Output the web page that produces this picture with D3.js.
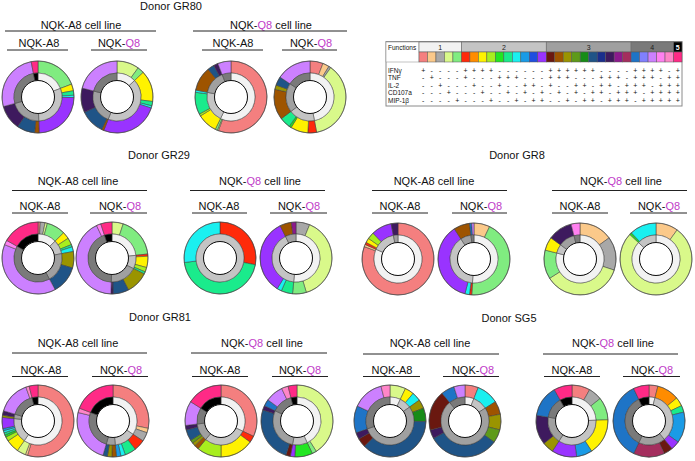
<!DOCTYPE html>
<html><head><meta charset="utf-8">
<script src="https://cdn.jsdelivr.net/npm/d3@7"></script>
<style>
body{margin:0;background:#fff}
svg{display:block}
text{font-family:"Liberation Sans",Arial,Helvetica,sans-serif;fill:#111}
</style>
</head><body>
<svg id="chart" width="695" height="461"></svg>
<script>
// ---------- DATA ----------
const functionNames = ["IFNγ","TNF","IL-2","CD107a","MIP-1β"];
// 31 functional combinations (1 = function present), in legend order
const combos = ["10000","01000","00100","00010","00001",
  "11000","10100","10010","10001","01100","01010","01001","00110","00101","00011",
  "11100","11010","11001","10110","10101","10011","01110","01101","01011","00111",
  "11110","11101","11011","10111","01111","11111"];
const comboColors = ["#F47F7F","#FBC98A","#A8A8A8","#D9F98A","#80EC80",
  "#FF2A0A","#FF8C00","#FFF200","#A8EE1E","#22E622","#1AEB8C","#1AF0F0","#1A9BE6","#1F4FE0","#9933FF",
  "#6A1810","#9E5400","#9A9400","#5E9A1A","#178C17","#1F5487","#1A2E8C","#3E1A5E","#8C1A8C","#A42E5E",
  "#1E74C6","#8080FF","#CC80FF","#FF80F0","#FF85C8","#FF2A86"];
const functionCountLabels = ["1","2","3","4","5"];
const functionCountGreys = ["#F2F2F2","#C4C4C4","#A0A0A0","#7A7A7A","#000000"];

// donut data: [combination index (1-based), percent], clockwise from 12 o'clock
const GR80_A8line_A8 = [[5,19],[8,3],[11,2],[12,1],[15,24],[17,2],[21,8],[23,11],[28,26],[31,3]];
const GR80_A8line_Q8 = [[4,10],[5,3],[8,14],[11,2],[12,1],[15,26],[17,1],[21,11],[23,11],[28,21]];
const GR80_Q8line_A8 = [[1,56],[4,0.5],[5,1],[8,9],[9,1],[11,10],[12,1],[17,11],[21,3],[23,2],[28,6]];
const GR80_Q8line_Q8 = [[1,6],[2,3],[3,1],[4,38],[6,4],[8,8],[10,1],[11,5],[17,14],[18,2],[21,4],[28,16]];

const GR29_A8line_A8 = [[1,1],[3,2],[4,1],[5,8],[8,3],[9,3],[11,1],[12,2],[18,7],[21,12],[28,37],[29,2],[31,16]];
const GR29_A8line_Q8 = [[4,5],[5,18],[6,1],[8,5],[9,2],[11,1],[18,10],[21,7],[23,1],[28,42],[29,2],[31,5]];
const GR29_Q8line_A8 = [[6,28],[11,45],[12,27]];
const GR29_Q8line_Q8 = [[3,6],[4,38],[5,6],[11,5],[12,2],[15,33],[17,5],[24,2]];

const GR8_A8line_A8 = [[1,79],[2,1],[6,1],[8,2],[9,3],[15,9],[23,3]];
const GR8_A8line_Q8 = [[2,7],[5,43],[6,1],[12,2],[15,36],[17,7],[26,1],[28,1]];
const GR8_Q8line_A8 = [[2,15],[3,15],[4,36],[5,13],[8,6],[23,11],[29,4]];
const GR8_Q8line_Q8 = [[2,10],[4,77],[10,1],[12,12]];

const GR81_A8line_A8 = [[1,55],[2,1],[4,4],[8,6],[9,2],[10,1],[11,1],[12,1],[13,1],[15,5],[18,1],[23,2],[28,15],[30,1.5],[31,4]];
const GR81_A8line_Q8 = [[1,28],[2,2],[3,4],[6,5],[11,5],[12,2],[13,2],[17,2],[18,2],[21,2],[28,24],[30,2],[31,19]];
const GR81_Q8line_A8 = [[1,32],[6,3],[8,15],[9,11],[17,2],[18,1.5],[19,1.5],[21,5],[23,2],[28,11],[31,16]];
const GR81_Q8line_Q8 = [[4,41],[5,2],[10,8],[15,2],[16,2],[21,25],[23,2],[26,3],[28,8],[30,3],[31,4]];

const SG5_A8line_A8 = [[4,7],[8,4],[12,4],[18,4],[20,6],[21,37],[16,4],[23,3],[26,12],[28,14],[30,4]];
const SG5_A8line_Q8 = [[1,6],[12,10],[17,6],[18,7],[19,6],[21,32],[23,4],[16,18],[26,6],[28,5]];
const SG5_Q8line_A8 = [[1,8],[3,6],[5,10],[8,16],[13,7],[15,11],[18,5],[23,13],[26,14],[31,8]];
const SG5_Q8line_Q8 = [[1,4],[7,10],[8,4],[11,3],[13,14],[15,4],[16,4],[25,14],[26,36],[31,7]];

const cellLineLabels = ["NQK-A8 cell line","NQK-Q8 cell line"];
const peptideLabels = ["NQK-A8","NQK-Q8"];

// ---------- LAYOUT ----------
const panels = [
  {donor:"GR80", tx:171, ty:10, gy:29, gly:31, sy:47, sly:50, dy:97,
   groups:[{cx:81,x0:5,x1:156},{cx:271,x0:193,x1:347}],
   subs:[{cx:39,x0:7,x1:68},{cx:119,x0:91,x1:147},{cx:233,x0:202,x1:263},{cx:311,x0:282,x1:337}],
   donutX:[38,117,231,310], data:[GR80_A8line_A8,GR80_A8line_Q8,GR80_Q8line_A8,GR80_Q8line_Q8]},
  {donor:"GR29", tx:159, ty:159, gy:185, gly:190.5, sy:210, sly:213, dy:258,
   groups:[{cx:78,x0:12,x1:147},{cx:260,x0:190,x1:325}],
   subs:[{cx:40,x0:12,x1:68},{cx:120,x0:90,x1:147},{cx:219,x0:192,x1:247},{cx:299,x0:270,x1:327}],
   donutX:[38,112,220,296], data:[GR29_A8line_A8,GR29_A8line_Q8,GR29_Q8line_A8,GR29_Q8line_Q8]},
  {donor:"GR8", tx:517, ty:159, gy:185, gly:190.5, sy:210, sly:213, dy:259,
   groups:[{cx:434,x0:372,x1:507},{cx:621,x0:552,x1:687}],
   subs:[{cx:400,x0:372,x1:428},{cx:481,x0:452,x1:507},{cx:580,x0:552,x1:608},{cx:659,x0:630,x1:687}],
   donutX:[398,474,580,656], data:[GR8_A8line_A8,GR8_A8line_Q8,GR8_Q8line_A8,GR8_Q8line_Q8]},
  {donor:"GR81", tx:160, ty:321, gy:347, gly:353, sy:373.5, sly:376.5, dy:421,
   groups:[{cx:78,x0:12,x1:147},{cx:262,x0:191,x1:327}],
   subs:[{cx:41,x0:12,x1:68},{cx:121,x0:92,x1:148},{cx:220,x0:192,x1:248},{cx:300,x0:272,x1:328}],
   donutX:[38,113,221,297], data:[GR81_A8line_A8,GR81_A8line_Q8,GR81_Q8line_A8,GR81_Q8line_Q8]},
  {donor:"SG5", tx:509, ty:322, gy:347, gly:354, sy:373.5, sly:376.5, dy:421,
   groups:[{cx:430,x0:363,x1:499},{cx:613,x0:543,x1:678}],
   subs:[{cx:392,x0:363,x1:420},{cx:473,x0:443,x1:499},{cx:572,x0:544,x1:600},{cx:652,x0:623,x1:680}],
   donutX:[390,465,572,649], data:[SG5_A8line_A8,SG5_A8line_Q8,SG5_Q8line_A8,SG5_Q8line_Q8]}
];

const svg = d3.select("#chart");
const MAGENTA = "#C03BC8";
const nFunc = c => combos[c-1].split("").filter(x=>x==="1").length;

function richText(sel, str, x, y, size){
  const t = sel.append("text").attr("x",x).attr("y",y).attr("text-anchor","middle").attr("font-size",size);
  str.split(/(Q8)/).filter(s=>s.length).forEach(p=>{
    const ts = t.append("tspan").text(p);
    if(p==="Q8") ts.style("fill",MAGENTA);
  });
  return t;
}

const R = 36, RM = 24, RI = 16.5;
const arcOuter = d3.arc().innerRadius(RM).outerRadius(R);
const arcInner = d3.arc().innerRadius(RI).outerRadius(RM);
const pie = d3.pie().sort(null).value(d=>d.v);

function drawDonut(g, data){
  const segs = data.map(([c,v])=>({c,v}));
  const rings = [];
  segs.forEach(s=>{
    const k = nFunc(s.c), last = rings[rings.length-1];
    if(last && last.k===k) last.v += s.v; else rings.push({k, v:s.v});
  });
  g.selectAll("path.o").data(pie(segs)).join("path").attr("class","o")
    .attr("d",arcOuter).attr("fill",d=>comboColors[d.data.c-1])
    .attr("stroke","#3a3a3a").attr("stroke-width",0.5);
  g.selectAll("path.i").data(pie(rings)).join("path").attr("class","i")
    .attr("d",arcInner).attr("fill",d=>functionCountGreys[d.data.k-1])
    .attr("stroke","#3a3a3a").attr("stroke-width",0.5);
  g.append("circle").attr("r",RI).attr("fill","#fff").attr("stroke","#111").attr("stroke-width",1);
  g.append("circle").attr("r",R).attr("fill","none").attr("stroke","#444").attr("stroke-width",0.6);
}

panels.forEach(p=>{
  const g = svg.append("g");
  g.append("text").attr("x",p.tx).attr("y",p.ty).attr("text-anchor","middle").attr("font-size",11).text("Donor "+p.donor);
  p.groups.forEach((gr,i)=>{
    richText(g, cellLineLabels[i], gr.cx, p.gy, 11);
    g.append("line").attr("x1",gr.x0).attr("x2",gr.x1).attr("y1",p.gly).attr("y2",p.gly).attr("stroke","#222").attr("stroke-width",1);
  });
  p.subs.forEach((s,i)=>{
    richText(g, peptideLabels[i%2], s.cx, p.sy, 11);
    g.append("line").attr("x1",s.x0).attr("x2",s.x1).attr("y1",p.sly).attr("y2",p.sly).attr("stroke","#222").attr("stroke-width",1);
  });
  p.donutX.forEach((x,i)=>{
    drawDonut(g.append("g").attr("transform",`translate(${x},${p.dy})`), p.data[i]);
  });
});

// ---------- LEGEND ----------
const L = {x0:386, x1:682, y0:41.5, y1:106, labelW:33, hy0:42, hy1:52, sy1:62};
const lg = svg.append("g");
lg.append("rect").attr("x",L.x0).attr("y",L.y0).attr("width",L.x1-L.x0).attr("height",L.y1-L.y0)
  .attr("fill","#fff").attr("stroke","#8a8a8a").attr("stroke-width",1);
const col = d3.scaleBand().domain(d3.range(combos.length)).range([L.x0+L.labelW, L.x1]);
lg.append("rect").attr("x",L.x0).attr("y",L.hy0).attr("width",L.labelW).attr("height",L.sy1-L.hy0)
  .attr("fill","#fff").attr("stroke","#999").attr("stroke-width",0.6);
lg.append("text").attr("x",L.x0+2).attr("y",50).attr("font-size",6.5).text("Functions");
// header groups
functionCountLabels.forEach((lab,k)=>{
  const idx = combos.map((c,i)=>i).filter(i=>nFunc(i+1)===k+1);
  const xa = col(idx[0]), xb = col(idx[idx.length-1])+col.bandwidth();
  lg.append("rect").attr("x",xa).attr("y",L.hy0).attr("width",xb-xa).attr("height",L.hy1-L.hy0)
    .attr("fill",functionCountGreys[k]).attr("stroke","#666").attr("stroke-width",0.6);
  lg.append("text").attr("x",(xa+xb)/2).attr("y",L.hy1-2.5).attr("text-anchor","middle").attr("font-size",7)
    .style("fill",k===4?"#fff":"#222").attr("font-weight",k===4?"bold":"normal").text(lab);
});
lg.selectAll("rect.sw").data(combos).join("rect").attr("class","sw")
  .attr("x",(d,i)=>col(i)).attr("y",L.hy1).attr("width",col.bandwidth()).attr("height",L.sy1-L.hy1)
  .attr("fill",(d,i)=>comboColors[i]).attr("stroke","#555").attr("stroke-width",0.5);
const rowY = d3.scalePoint().domain(functionNames).range([72.5,102.5]);
functionNames.forEach((fn,r)=>{
  lg.append("text").attr("x",L.x0+2).attr("y",rowY(fn)).attr("font-size",6.5).text(fn);
  lg.selectAll(null).data(combos).join("text")
    .attr("x",(d,i)=>col(i)+col.bandwidth()/2).attr("y",rowY(fn))
    .attr("text-anchor","middle").attr("font-size",7)
    .text(d=>d[r]==="1"?"+":"-");
});
</script>
</body></html>
